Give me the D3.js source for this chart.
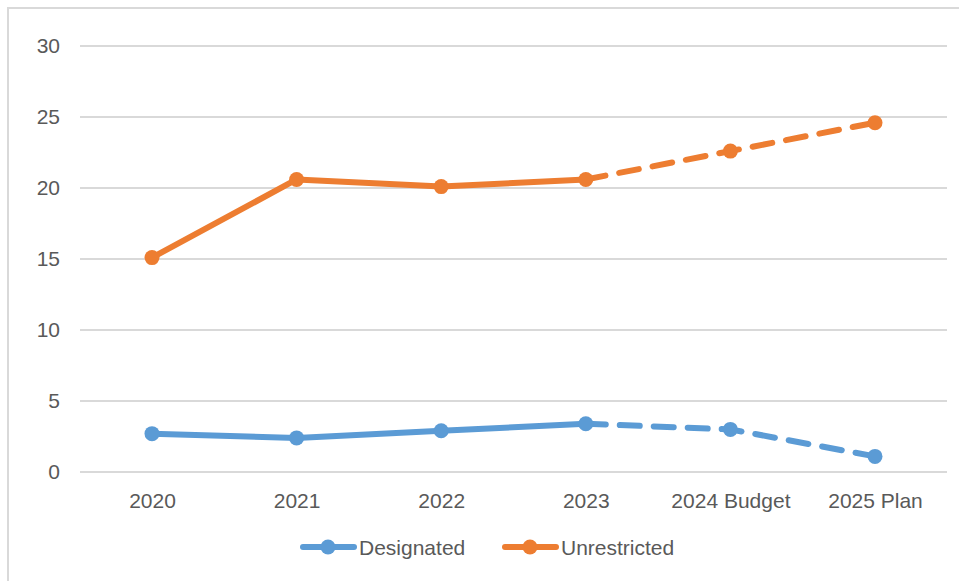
<!DOCTYPE html>
<html><head><meta charset="utf-8">
<script src="https://cdn.jsdelivr.net/npm/d3@7"></script>
<style>body{margin:0;background:#fff;}svg{display:block;}</style>
</head><body>
<svg id="chart" width="959" height="581"></svg>
<script>
const categories = ["2020","2021","2022","2023","2024 Budget","2025 Plan"];
const designated = [2.7, 2.4, 2.9, 3.4, 3.0, 1.1];
const unrestricted = [15.1, 20.6, 20.1, 20.6, 22.6, 24.6];
const yTicks = [0,5,10,15,20,25,30];
const seriesNames = ["Designated","Unrestricted"];
const colors = ["#5b9bd5","#ed7d31"];
const actualCount = 4; // first 4 points solid, then dashed

const svg = d3.select("#chart");
const font = "'Liberation Sans', Arial, sans-serif";
svg.append("rect").attr("x",8).attr("y",8).attr("width",1000).attr("height",1000)
  .attr("fill","#fff").attr("stroke","#d9d9d9").attr("stroke-width",2);

const x = d3.scalePoint().domain(categories).range([152,875]);
const y = d3.scaleLinear().domain([0,30]).range([472,46]);

const grid = svg.append("g");
grid.selectAll("line").data(yTicks).join("line")
  .attr("x1",80).attr("x2",947).attr("y1",d=>y(d)).attr("y2",d=>y(d))
  .attr("stroke","#d9d9d9").attr("stroke-width",2);

const yAxis = svg.append("g").attr("transform","translate(80,0)")
  .call(d3.axisLeft(y).tickValues(yTicks).tickSize(0).tickPadding(20));
yAxis.select(".domain").remove();
yAxis.selectAll("text").attr("font-family",font).attr("font-size",21).attr("fill","#595959");

const xAxis = svg.append("g").attr("transform","translate(0,472)")
  .call(d3.axisBottom(x).tickSize(0).tickPadding(21));
xAxis.select(".domain").remove();
xAxis.selectAll("text").attr("font-family",font).attr("font-size",21).attr("fill","#595959");

const line = d3.line().x(d=>x(d.c)).y(d=>y(d.v));
[designated, unrestricted].forEach((vals,i)=>{
  const pts = vals.map((v,j)=>({c:categories[j],v}));
  const g = svg.append("g");
  g.append("path").attr("d",line(pts.slice(0,actualCount))).attr("fill","none")
    .attr("stroke",colors[i]).attr("stroke-width",6).attr("stroke-linejoin","round").attr("stroke-linecap","round");
  g.append("path").attr("d",line(pts.slice(actualCount-1))).attr("fill","none")
    .attr("stroke",colors[i]).attr("stroke-width",6).attr("stroke-dasharray","20,14").attr("stroke-linecap","round")
    .attr("stroke-linejoin","round");
  g.selectAll("circle").data(pts).join("circle")
    .attr("cx",d=>x(d.c)).attr("cy",d=>y(d.v)).attr("r",7.5).attr("fill",colors[i]);
});

const legX = [300, 502];
seriesNames.forEach((n,i)=>{
  const g = svg.append("g").attr("transform",`translate(${legX[i]},547)`);
  g.append("line").attr("x1",3).attr("x2",54).attr("stroke",colors[i]).attr("stroke-width",6).attr("stroke-linecap","round");
  g.append("circle").attr("cx",28).attr("r",7.5).attr("fill",colors[i]);
  g.append("text").attr("x",59).attr("y",7.5).text(n)
    .attr("font-family",font).attr("font-size",21).attr("fill","#595959");
});
</script>
</body></html>
